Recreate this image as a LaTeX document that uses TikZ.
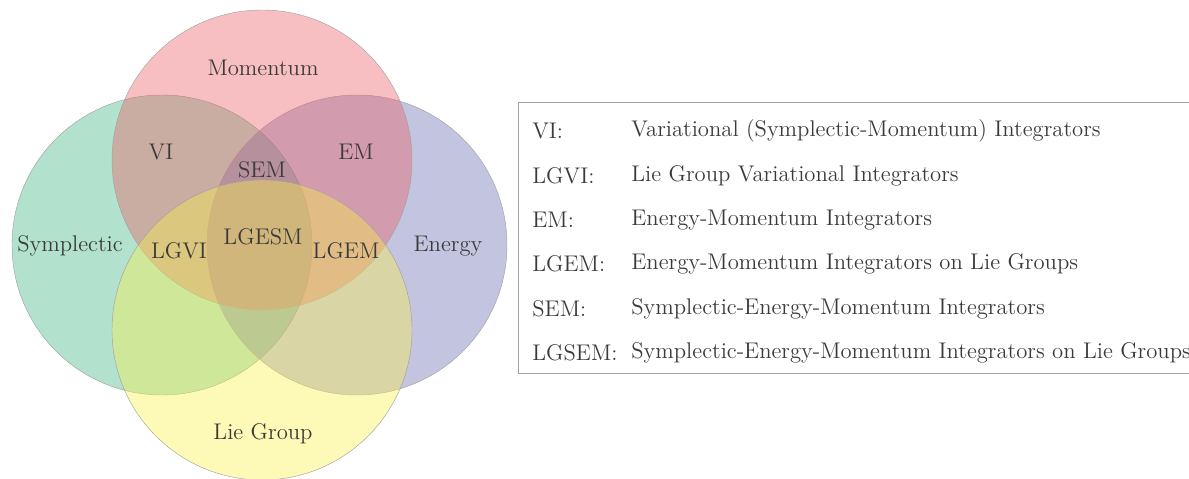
\documentclass[tikz,border=0pt]{standalone}
\usepackage{tikz}
\usetikzlibrary{positioning}
\definecolor{vnSympl}{RGB}{62,182,132}
\definecolor{vnEnergy}{RGB}{105,107,177}
\definecolor{vnMoment}{RGB}{235,95,100}
\definecolor{vnLie}{RGB}{250,240,75}
\definecolor{vnInk}{HTML}{3A3A3A}
\definecolor{vnEdge}{HTML}{A0A0A0}
\tikzset{
  setc/.style={draw=vnEdge, line width=0.25pt, fill opacity=0.4},
  lbl/.style={font=\fontsize{12.9}{15}\selectfont, text=vnInk, inner sep=0pt},
  key/.style={lbl, anchor=west},
}
\begin{document}
\begin{tikzpicture}[x=0.02cm, y=-0.02cm]
  \useasboundingbox (0,0) rectangle (1189,479);
  % the four sets
  \draw[setc, fill=vnSympl] (162,245) circle (150);
  \draw[setc, fill=vnEnergy] (357,245) circle (150);
  \draw[setc, fill=vnMoment] (262,160) circle (150);
  \draw[setc, fill=vnLie] (262,330) circle (150);
  % region labels
  \node[lbl] (mom) at (263,68) {Momentum};
  \node[lbl] (sym) at (70,246) {Symplectic};
  \node[lbl] (ene) at (448,246) {Energy};
  \node[lbl] (lie) at (263,434) {Lie Group};
  \node[lbl] (vi) at (161,152) {VI};
  \node[lbl] (em) at (356,152) {EM};
  \node[lbl] (sem) at (262,170) {SEM};
  \node[lbl] (lgvi) at (179,251) {LGVI};
  \node[lbl] (lgesm) at (263,237) {LGESM};
  \node[lbl] (lgem) at (346,251) {LGEM};
  % legend
  \draw[vnEdge, line width=0.5pt] (518,102) rectangle (1200,373);
  \foreach \ab/\txt [count=\i] in {VI:/Variational (Symplectic-Momentum) Integrators,
      LGVI:/Lie Group Variational Integrators,
      EM:/Energy-Momentum Integrators,
      LGEM:/Energy-Momentum Integrators on Lie Groups,
      SEM:/Symplectic-Energy-Momentum Integrators,
      LGSEM:/Symplectic-Energy-Momentum Integrators on Lie Groups} {
    \node[key] (ab\i) at (532,{131+44.4*(\i-1)}) {\ab};
    \node[key] (txt\i) at (631,{131+44.4*(\i-1)}) {\txt};
  }
\end{tikzpicture}
\end{document}
